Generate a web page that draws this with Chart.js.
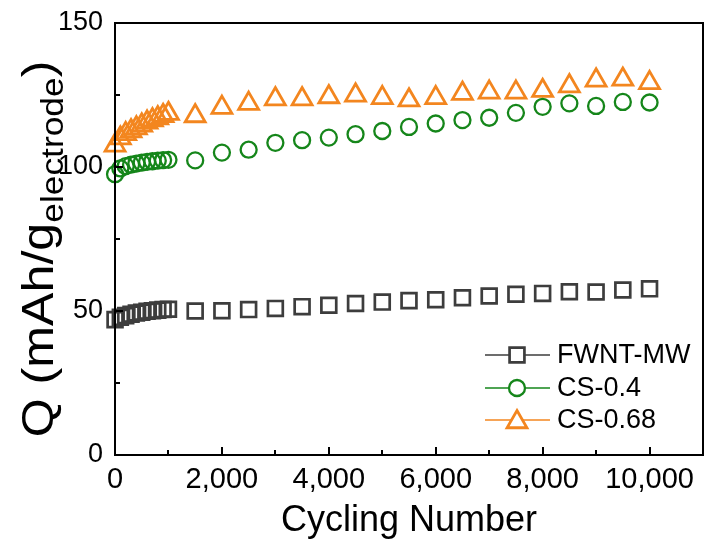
<!DOCTYPE html>
<html><head><meta charset="utf-8">
<script src="https://cdn.jsdelivr.net/npm/chart.js@4"></script>
<style>html,body{margin:0;padding:0;background:#fff;}#wrap{width:707px;height:546px;position:relative;}</style>
</head><body><div id="wrap"><canvas id="c" width="707" height="546"></canvas></div>
<script>
const cycles = [1,100,200,300,400,500,600,700,800,900,1000,1500,2000,2500,3000,3500,4000,4500,5000,5500,6000,6500,7000,7500,8000,8500,9000,9500,10000];
const fwntMW = [47.0,47.8,48.4,48.9,49.3,49.6,49.9,50.1,50.3,50.5,50.6,50.0,50.1,50.5,50.9,51.5,52.0,52.6,53.1,53.6,53.9,54.6,55.2,55.8,56.1,56.7,56.6,57.3,57.7];
const cs04 = [97.5,99.5,100.3,100.8,101.2,101.5,101.8,102.0,102.2,102.4,102.5,102.3,105.0,106.0,108.4,109.3,110.2,111.4,112.5,113.9,115.1,116.3,117.1,118.8,120.9,122.1,121.2,122.6,122.4];
const cs068 = [107.5,110.0,111.5,112.5,113.5,114.5,115.5,116.3,117.0,117.8,118.5,117.7,120.6,122.0,123.6,123.6,124.3,124.9,124.0,123.2,124.0,125.5,125.9,125.9,126.5,128.1,130.1,130.4,129.2];
const seriesNames = ['FWNT-MW','CS-0.4','CS-0.68'];
const xTickValues = [0,2000,4000,6000,8000,10000];
const xMinorValues = [1000,3000,5000,7000,9000];
const yTickValues = [0,50,100,150];
const yMinorValues = [25,75,125];

const colors = ['#3d3d3d','#15861a','#f3861f'];
const styles = ['rect','circle','triangle'];
const radii = [10.5,8,11.5];
const widths = [2.7,2.3,2.8];
const FONT = '"Liberation Sans", Arial, sans-serif';

function pts(ys){ return cycles.map((x,i)=>({x:x,y:ys[i]})); }
const allSeries = [fwntMW, cs04, cs068];

const framePlugin = {
  id:'frame',
  afterDatasetsDraw(chart){
    const ctx = chart.ctx, a = chart.chartArea;
    const xs = chart.scales.x, ys = chart.scales.y;
    ctx.save();
    ctx.strokeStyle = '#000'; ctx.lineWidth = 2;
    ctx.strokeRect(a.left, a.top, a.right - a.left, a.bottom - a.top);
    ctx.beginPath();
    xTickValues.concat(xMinorValues).forEach(v=>{
      const px = Math.round(xs.getPixelForValue(v));
      const len = xTickValues.includes(v) ? 8 : 5;
      ctx.moveTo(px, a.bottom); ctx.lineTo(px, a.bottom - len);
    });
    yTickValues.concat(yMinorValues).forEach(v=>{
      const py = Math.round(ys.getPixelForValue(v));
      const len = yTickValues.includes(v) ? 8 : 5;
      ctx.moveTo(a.left, py); ctx.lineTo(a.left + len, py);
    });
    ctx.stroke();
    ctx.restore();
  }
};

const yTitlePlugin = {
  id:'ytitle',
  afterDraw(chart){
    const ctx = chart.ctx;
    ctx.save();
    ctx.translate(53, 249);
    ctx.rotate(-Math.PI/2);
    ctx.scale(1.14, 1);
    ctx.fillStyle = '#000';
    ctx.textBaseline = 'alphabetic';
    const mainF = '44px ' + FONT;
    const subF = '31px ' + FONT;
    const p1 = 'Q (mAh/g', p2 = 'electrode', p3 = ')';
    ctx.font = mainF; const w1 = ctx.measureText(p1).width, w3 = ctx.measureText(p3).width;
    ctx.font = subF; const w2 = ctx.measureText(p2).width;
    let x = -(w1+w2+w3)/2;
    ctx.font = mainF; ctx.fillText(p1, x, 0); x += w1;
    ctx.font = subF; ctx.fillText(p2, x, 10); x += w2;
    ctx.font = mainF; ctx.fillText(p3, x, 0);
    ctx.restore();
  }
};

const legendPlugin = {
  id:'customLegend',
  afterDraw(chart){
    const ctx = chart.ctx;
    const x0 = 485, x1 = 550, xm = 517, tx = 557;
    const rowsY = [355, 388, 420];
    ctx.save();
    seriesNames.forEach((name,i)=>{
      const y = rowsY[i];
      ctx.strokeStyle = colors[i]; ctx.lineWidth = 1.6;
      ctx.beginPath(); ctx.moveTo(x0,y); ctx.lineTo(x1,y); ctx.stroke();
      ctx.fillStyle = '#fff';
      ctx.lineWidth = widths[i];
      Chart.helpers.drawPoint(ctx, {pointStyle: styles[i], rotation:0, radius: radii[i], borderWidth: widths[i]}, xm, y + (i===2?2:0));
      ctx.fillStyle = '#000';
      ctx.font = '27px ' + FONT;
      ctx.textBaseline = 'middle';
      ctx.fillText(name, tx, y + 1);
    });
    ctx.restore();
  }
};

const datasets = allSeries.map((s,i)=>({
  label: seriesNames[i],
  data: pts(s),
  showLine: false,
  pointStyle: styles[i],
  pointRadius: radii[i],
  pointHoverRadius: radii[i],
  pointBorderWidth: widths[i],
  pointBorderColor: colors[i],
  pointBackgroundColor: 'rgba(0,0,0,0)',
  borderColor: colors[i],
  clip: false
}));

new Chart(document.getElementById('c'), {
  type: 'scatter',
  data: { datasets: datasets },
  options: {
    responsive: false, animation: false, devicePixelRatio: 1,
    layout: { autoPadding: false, padding: { top: 23, right: 4, left: 0, bottom: 0 } },
    plugins: { legend: { display: false }, tooltip: { enabled: false } },
    scales: {
      x: {
        type: 'linear', min: 0, max: 11000,
        grid: { display: false, drawTicks: false },
        border: { display: false },
        afterBuildTicks: s => { s.ticks = xTickValues.map(v=>({value:v})); },
        afterFit: s => { s.height = 91; s.paddingRight = 0; s.paddingLeft = 0; },
        ticks: { color:'#000', padding: 8, maxRotation: 0, autoSkip: false,
          font: { family: FONT, size: 29 },
          callback: v => v.toLocaleString('en-US') },
        title: { display: true, text: 'Cycling Number', color:'#000',
          font: { family: FONT, size: 36 }, padding: { top: 0, bottom: 3 } }
      },
      y: {
        type: 'linear', min: 0, max: 150,
        grid: { display: false, drawTicks: false },
        border: { display: false },
        afterBuildTicks: s => { s.ticks = yTickValues.map(v=>({value:v})); },
        afterFit: s => { s.width = 115; s.paddingTop = 0; s.paddingBottom = 0; },
        ticks: { color:'#000', padding: 12,
          font: { family: FONT, size: 27 } }
      }
    }
  },
  plugins: [framePlugin, yTitlePlugin, legendPlugin]
});
</script></body></html>
